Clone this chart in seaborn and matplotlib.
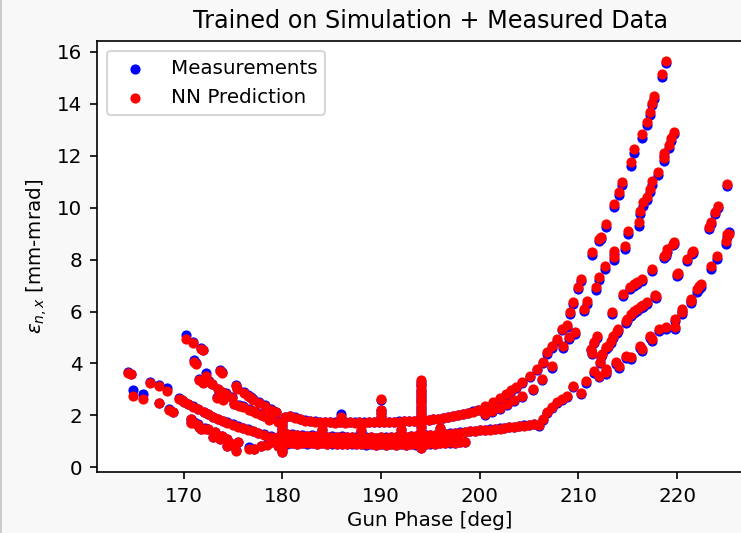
import matplotlib
matplotlib.use("Agg")
import matplotlib.pyplot as plt
import pandas as pd
import seaborn as sns
from matplotlib.lines import Line2D

# ------------------- Data -------------------
# each scan: (gun phase [deg], measured emittance, NN predicted emittance)

# left side, falling scans
scan_l1 = [
    (170.2, 5.08, 4.93), (170.9, 4.84, 4.80), (171.7, 4.60, 4.56), (171.9, 4.52, 4.50),
    (171.0, 4.12, 4.06), (171.2, 4.02, 3.98), (172.2, 3.62, 3.50), (171.5, 3.40, 3.38),
    (171.9, 3.28, 3.26), (172.6, 3.33, 3.30), (172.9, 3.22, 3.20), (173.7, 3.74, 3.70),
    (173.9, 3.66, 3.62), (173.5, 3.02, 3.00), (173.9, 2.92, 2.90), (174.3, 2.85, 2.84),
    (175.25, 3.16, 3.12), (175.4, 3.06, 3.00), (176.1, 2.90, 2.86), (176.5, 2.80, 2.76),
    (176.8, 2.70, 2.68), (177.0, 2.62, 2.60), (177.6, 2.52, 2.49), (178.2, 2.40, 2.37),
    (178.8, 2.25, 2.22), (179.3, 2.14, 2.12), (179.0, 2.16, 2.10),
]
scan_l1b = [
    (173.4, 2.70, 2.68), (174.0, 2.62, 2.60), (174.9, 2.70, 2.66), (175.05, 2.44, 2.42),
    (175.6, 2.40, 2.36), (176.0, 2.36, 2.34), (176.6, 2.24, 2.22), (177.0, 2.18, 2.16),
    (177.3, 2.12, 2.10), (177.8, 2.04, 2.02), (178.1, 1.98, 1.96), (178.6, 1.86, 1.84),
    (179.5, 1.78, 1.76),
]
scan_l3 = [
    (164.35, 3.66, 3.62), (164.6, 3.60, 3.58), (166.6, 3.30, 3.26), (167.5, 3.16, 3.14),
    (168.3, 3.06, 2.94), (169.5, 2.66, 2.62), (169.8, 2.60, 2.58), (170.0, 2.52, 2.50),
    (170.4, 2.44, 2.42), (170.9, 2.36, 2.34), (171.4, 2.26, 2.24), (172.0, 2.14, 2.12),
    (172.4, 2.05, 2.04), (173.0, 1.95, 1.92), (173.5, 1.87, 1.85), (174.0, 1.80, 1.78),
    (174.4, 1.74, 1.72), (175.0, 1.65, 1.62), (175.5, 1.58, 1.56), (176.0, 1.52, 1.50),
    (176.5, 1.46, 1.44), (177.0, 1.40, 1.38), (177.5, 1.34, 1.32), (178.1, 1.28, 1.26),
    (178.8, 1.20, 1.18), (179.5, 1.16, 1.15), (180.2, 1.12, 1.10),
]
scan_l4 = [
    (164.85, 2.96, 2.74), (165.9, 2.81, 2.64), (167.5, 2.48, 2.46), (168.5, 2.25, 2.22),
    (168.9, 2.14, 2.12), (170.7, 1.88, 1.85), (170.7, 1.75, 1.72), (171.0, 1.74, 1.72),
    (171.4, 1.66, 1.64), (171.5, 1.56, 1.54), (171.7, 1.48, 1.46), (172.1, 1.50, 1.46),
    (172.5, 1.48, 1.46), (173.2, 1.37, 1.35), (173.0, 1.18, 1.15), (173.7, 1.10, 1.08),
    (173.9, 1.22, 1.19), (174.4, 1.10, 1.08), (174.4, 0.84, 0.81), (174.9, 0.90, 0.88),
    (175.25, 0.66, 0.62), (175.5, 0.98, 0.96),
]
scan_bottom = [
    (176.6, 0.78, 0.70), (177.1, 0.72, 0.69), (177.8, 0.83, 0.81), (178.4, 0.88, 0.86),
    (178.8, 0.98, 0.96), (179.5, 0.84, 0.81), (179.8, 0.80, 0.77),
]

# middle, flat bands
band_upper = [
    (180.3, 1.94, 1.92), (180.8, 1.98, 1.96), (181.3, 1.92, 1.90), (181.8, 1.87, 1.85),
    (182.3, 1.82, 1.80), (182.8, 1.79, 1.78), (183.3, 1.77, 1.76), (183.8, 1.76, 1.75),
    (184.3, 1.74, 1.73), (184.8, 1.75, 1.74), (185.3, 1.73, 1.72), (185.8, 1.74, 1.73),
    (186.3, 1.73, 1.72), (186.8, 1.74, 1.73), (187.3, 1.73, 1.72), (187.8, 1.74, 1.73),
    (188.3, 1.73, 1.72), (188.8, 1.74, 1.73), (189.3, 1.74, 1.73), (189.8, 1.75, 1.74),
    (190.3, 1.75, 1.74), (190.8, 1.76, 1.75), (191.3, 1.76, 1.75), (191.8, 1.77, 1.76),
    (192.3, 1.78, 1.77), (192.8, 1.79, 1.78), (193.3, 1.80, 1.79), (193.8, 1.81, 1.80),
    (194.3, 1.82, 1.81), (194.8, 1.84, 1.83), (195.3, 1.86, 1.85), (195.8, 1.88, 1.87),
    (196.3, 1.91, 1.90), (196.8, 1.94, 1.93), (197.3, 1.97, 1.96), (197.8, 2.01, 2.00),
    (198.3, 2.06, 2.05), (198.8, 2.11, 2.10), (199.3, 2.16, 2.15), (199.8, 2.22, 2.21),
]
band_middle = [
    (180.5, 1.30, 1.28), (181.0, 1.27, 1.26), (181.5, 1.25, 1.24), (182.0, 1.24, 1.22),
    (182.5, 1.22, 1.21), (183.0, 1.23, 1.21), (183.5, 1.20, 1.19), (184.0, 1.21, 1.20),
    (184.5, 1.18, 1.17), (185.0, 1.20, 1.18), (185.5, 1.17, 1.16), (186.0, 1.19, 1.17),
    (186.5, 1.16, 1.15), (187.0, 1.18, 1.16), (187.5, 1.15, 1.14), (188.0, 1.17, 1.15),
    (188.5, 1.15, 1.14), (189.0, 1.16, 1.15), (189.5, 1.14, 1.13), (190.0, 1.16, 1.15),
    (190.5, 1.15, 1.14), (191.0, 1.17, 1.16), (191.5, 1.16, 1.15), (192.0, 1.19, 1.18),
    (192.5, 1.18, 1.17), (193.0, 1.21, 1.20), (193.5, 1.21, 1.20), (194.0, 1.22, 1.21),
    (194.5, 1.23, 1.22), (195.0, 1.25, 1.24), (195.5, 1.26, 1.25), (196.0, 1.28, 1.27),
    (196.5, 1.29, 1.28), (197.0, 1.31, 1.30), (197.5, 1.33, 1.32), (198.0, 1.35, 1.34),
    (198.5, 1.37, 1.36), (199.0, 1.39, 1.38), (199.5, 1.41, 1.40), (200.0, 1.43, 1.42),
    (200.5, 1.45, 1.44), (201.0, 1.46, 1.45), (201.5, 1.48, 1.47), (202.0, 1.50, 1.49),
    (202.5, 1.52, 1.51), (203.0, 1.55, 1.54), (203.5, 1.57, 1.56), (204.0, 1.60, 1.59),
    (204.5, 1.62, 1.61), (205.0, 1.64, 1.63), (205.5, 1.66, 1.65),
]
band_lower = [
    (180.5, 0.90, 0.92), (181.0, 0.93, 0.95), (181.5, 0.90, 0.91), (182.0, 0.94, 0.95),
    (182.5, 0.91, 0.92), (183.0, 0.93, 0.94), (183.5, 0.90, 0.91), (184.0, 0.92, 0.93),
    (184.5, 0.88, 0.90), (185.0, 0.91, 0.92), (185.5, 0.88, 0.89), (186.0, 0.90, 0.91),
    (186.5, 0.88, 0.89), (187.0, 0.91, 0.92), (187.5, 0.88, 0.89), (188.0, 0.89, 0.90),
    (188.5, 0.86, 0.88), (189.0, 0.88, 0.89), (189.5, 0.86, 0.87), (190.0, 0.88, 0.89),
    (190.5, 0.86, 0.87), (191.0, 0.88, 0.89), (191.5, 0.86, 0.87), (192.0, 0.88, 0.89),
    (192.5, 0.86, 0.87), (193.0, 0.89, 0.90), (193.5, 0.87, 0.88), (194.0, 0.90, 0.91),
    (194.5, 0.88, 0.89), (195.0, 0.91, 0.92), (195.5, 0.89, 0.90), (196.0, 0.92, 0.93),
    (196.5, 0.93, 0.94), (197.0, 0.95, 0.96), (197.5, 0.93, 0.94), (198.0, 0.98, 0.99),
    (198.5, 0.96, 0.97),
]
band_scatter = [
    (182.5, 1.05, 1.06), (185.0, 1.04, 1.05), (187.4, 1.02, 1.03), (187.4, 1.10, 1.10),
    (189.5, 1.03, 1.04), (191.5, 1.02, 1.03), (193.0, 1.04, 1.05), (195.5, 1.06, 1.07),
    (197.0, 1.10, 1.11), (184.0, 1.45, 1.47), (188.0, 1.40, 1.42), (192.0, 1.45, 1.46),
    (196.0, 1.50, 1.52),
]
spikes = [
    (194.0, 3.30, 3.35), (194.0, 3.16, 3.22), (194.0, 2.98, 3.08), (194.0, 2.85, 2.95),
    (194.0, 2.74, 2.82), (194.0, 2.62, 2.68), (194.0, 2.50, 2.55), (194.0, 2.38, 2.42),
    (194.0, 2.25, 2.28), (194.0, 2.12, 2.15), (194.0, 2.00, 2.02), (194.0, 1.55, 1.55),
    (194.0, 1.40, 1.40), (194.0, 1.05, 1.05), (194.0, 0.75, 0.75),
    (190.0, 2.60, 2.62), (190.0, 2.22, 2.20), (190.0, 2.08, 2.06), (190.0, 1.95, 1.94),
    (185.9, 2.04, 1.95), (185.9, 1.90, 1.88),
    (180.0, 1.75, 1.72), (180.0, 1.60, 1.62), (180.0, 1.48, 1.48), (180.0, 1.35, 1.35),
    (180.0, 1.22, 1.22), (180.0, 1.08, 1.08), (180.0, 0.95, 0.95), (180.0, 0.82, 0.82),
    (180.0, 0.70, 0.70), (180.0, 0.58, 0.58),
]

# right side, rising scans
curve_a = [
    (200.5, 2.33, 2.36), (201.3, 2.48, 2.52), (202.0, 2.63, 2.67), (202.7, 2.80, 2.84),
    (203.2, 2.93, 2.97), (203.7, 3.06, 3.10), (204.3, 3.25, 3.30), (205.05, 3.47, 3.52),
    (205.8, 3.75, 3.80), (206.4, 4.01, 4.06), (206.8, 4.38, 4.44), (207.3, 4.61, 4.67),
    (207.8, 4.88, 4.95), (208.3, 5.27, 5.33), (208.8, 5.42, 5.48), (209.1, 5.91, 5.98),
    (209.4, 6.30, 6.37), (209.9, 6.86, 6.94), (210.3, 7.16, 7.25), (211.4, 8.19, 8.29),
    (212.1, 8.71, 8.81), (212.3, 8.78, 8.87), (212.8, 9.26, 9.37), (213.6, 10.02, 10.14),
    (214.1, 10.49, 10.60), (214.4, 10.86, 10.98), (215.35, 11.62, 11.75), (215.65, 12.12, 12.25),
    (216.45, 12.70, 12.83), (216.9, 13.17, 13.29), (217.2, 13.56, 13.67), (217.4, 13.94, 14.05),
    (217.7, 14.18, 14.29), (218.5, 15.04, 15.14), (218.9, 15.58, 15.64),
]
curve_b = [
    (200.5, 2.03, 2.06), (201.2, 2.13, 2.16), (202.0, 2.25, 2.29), (202.8, 2.39, 2.43),
    (203.5, 2.55, 2.59), (204.3, 2.70, 2.74), (205.35, 2.96, 3.01), (206.3, 3.36, 3.41),
    (207.3, 3.83, 3.89), (208.4, 4.59, 4.66), (209.0, 4.94, 5.01), (209.6, 5.13, 5.20),
    (210.6, 6.01, 6.09), (210.9, 6.30, 6.39), (211.8, 6.84, 6.93), (212.1, 7.22, 7.32),
    (212.7, 7.64, 7.74), (213.6, 7.99, 8.09), (213.6, 8.21, 8.32), (214.75, 8.40, 8.51),
    (215.05, 8.98, 9.09), (216.1, 9.31, 9.43), (216.2, 9.74, 9.86), (216.5, 10.08, 10.20),
    (216.9, 10.31, 10.43), (217.2, 10.59, 10.71), (217.5, 10.89, 11.01), (218.1, 11.24, 11.36),
    (218.7, 11.80, 11.93), (218.7, 11.98, 12.11), (219.2, 12.31, 12.43), (219.4, 12.58, 12.70),
    (219.7, 12.84, 12.93),
]
curve_c = [
    (206.0, 1.60, 1.63), (206.4, 1.82, 1.86), (206.8, 2.11, 2.15), (207.3, 2.27, 2.31),
    (207.8, 2.46, 2.51), (208.3, 2.58, 2.63), (208.8, 2.69, 2.74), (209.4, 3.08, 3.13),
    (210.3, 2.84, 2.88), (210.8, 3.26, 3.31), (211.6, 3.64, 3.70), (212.1, 3.46, 3.51),
    (212.8, 3.61, 3.66), (212.8, 3.72, 3.78), (213.8, 3.99, 4.05), (214.1, 3.83, 3.89),
    (214.85, 4.22, 4.28), (215.35, 4.18, 4.24), (216.2, 4.59, 4.66), (216.4, 4.48, 4.55),
    (217.2, 4.98, 5.05), (217.4, 4.86, 4.93), (218.2, 5.24, 5.32), (218.9, 5.31, 5.39),
    (219.8, 5.31, 5.39), (219.8, 5.62, 5.70), (220.5, 5.89, 5.97), (220.5, 6.01, 6.09),
    (221.4, 6.31, 6.39), (221.4, 6.39, 6.47), (222.0, 6.77, 6.86), (222.2, 6.88, 6.97),
    (222.4, 6.96, 7.05), (223.4, 7.64, 7.74), (224.0, 8.03, 8.13), (225.0, 8.60, 8.70),
    (225.05, 8.87, 8.97), (225.25, 9.06, 8.99),
]
curve_d = [
    (211.3, 4.50, 4.55), (211.4, 4.36, 4.42), (211.6, 4.77, 4.82), (211.9, 5.00, 5.06),
    (213.35, 5.91, 5.98), (214.5, 6.61, 6.68), (215.2, 6.86, 6.93), (215.65, 6.98, 7.05),
    (215.9, 7.05, 7.12), (216.4, 7.18, 7.26), (217.4, 7.56, 7.64), (218.7, 8.06, 8.14),
    (218.9, 8.14, 8.22), (219.0, 8.31, 8.39), (219.6, 8.55, 8.62), (219.7, 8.60, 8.68),
]
curve_e = [
    (212.15, 4.00, 4.05), (212.3, 4.24, 4.30), (212.4, 4.31, 4.37), (212.8, 4.57, 4.63),
    (213.0, 4.62, 4.68), (213.3, 4.80, 4.86), (213.5, 5.00, 5.07), (213.9, 5.18, 5.25),
    (214.0, 5.25, 5.32), (214.85, 5.57, 5.64), (214.9, 5.64, 5.71), (215.35, 5.82, 5.89),
    (215.6, 5.94, 6.01), (215.9, 6.02, 6.09), (216.3, 6.14, 6.21), (216.5, 6.17, 6.24),
    (216.9, 6.30, 6.37), (217.8, 6.56, 6.63), (217.9, 6.53, 6.60), (220.0, 7.36, 7.44),
    (220.1, 7.42, 7.50), (221.0, 7.93, 8.01), (221.5, 8.20, 8.28), (221.6, 8.24, 8.32),
]
curve_g = [
    (223.2, 9.17, 9.25), (223.4, 9.36, 9.44), (223.8, 9.75, 9.83), (224.1, 9.98, 10.06),
    (225.05, 10.82, 10.90),
]

scans = [scan_l1, scan_l1b, scan_l3, scan_l4, scan_bottom,
         band_upper, band_middle, band_lower, band_scatter, spikes,
         curve_a, curve_b, curve_c, curve_d, curve_e, curve_g]

rows = [row for scan in scans for row in scan]
df = pd.DataFrame(rows, columns=['phase', 'measured', 'predicted'])

# ------------------- Plot -------------------
plt.rcParams['font.size'] = 9.55

fig = plt.figure(figsize=(741 / 150, 533 / 150), dpi=150, facecolor='#f8f8f8')
ax = fig.add_axes([97 / 741, 61 / 533, 666 / 741, 431 / 533])
ax.set_facecolor('white')

sns.scatterplot(data=df, x='phase', y='measured', color='#0000ff', s=24,
                linewidth=0, label='Measurements', ax=ax)
sns.scatterplot(data=df, x='phase', y='predicted', color='#ff0000', s=24,
                linewidth=0, label='NN Prediction', ax=ax)

ax.set_xlim(161.2, 228.7)
ax.set_ylim(-0.18, 16.42)
ax.set_xticks([170, 180, 190, 200, 210, 220])
ax.set_yticks([0, 2, 4, 6, 8, 10, 12, 14, 16])
ax.set_title('Trained on Simulation + Measured Data', fontsize=11.45)
ax.set_xlabel('Gun Phase [deg]', labelpad=2.5)
ax.set_ylabel(r'$\epsilon_{n,x}$ [mm-mrad]')
ax.legend(loc='upper left')

# thin border at the left edge of the screenshot
fig.add_artist(Line2D([0.0015, 0.0015], [0, 1], transform=fig.transFigure,
                      color='#c4c4c4', linewidth=0.8))

fig.savefig('out.png', dpi=150, facecolor=fig.get_facecolor())
